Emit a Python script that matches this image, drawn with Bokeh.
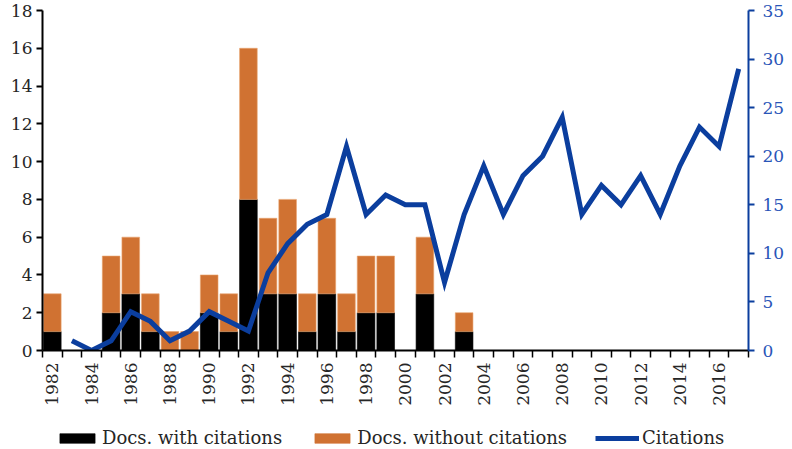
import numpy as np
from bokeh.plotting import figure
from bokeh.layouts import column
from bokeh.models import Range1d, LinearAxis, FixedTicker, ColumnDataSource, Legend, LegendItem
from bokeh.embed import file_html
from bokeh.resources import INLINE

years = list(range(1982, 2018))
with_cit = [1, 0, 0, 2, 3, 1, 0, 0, 2, 1, 8, 3, 3, 1, 3, 1, 2, 2, 0, 3, 0, 1] + [0] * 14
without_cit = [2, 0, 0, 3, 3, 2, 1, 1, 2, 2, 8, 4, 5, 2, 4, 2, 3, 3, 0, 3, 0, 1] + [0] * 14
cit_years = list(range(1983, 2018))
citations = [1, 0, 1, 4, 3, 1, 2, 4, 3, 2, 8, 11, 13, 14, 21, 14, 16, 15, 15, 7,
             14, 19, 14, 18, 20, 24, 14, 17, 15, 18, 14, 19, 23, 21, 29]
left_ticks = list(range(0, 19, 2))
right_ticks = list(range(0, 36, 5))
label_years = list(range(1982, 2017, 2))

FONT = "DejaVu Serif"
BLACK = "#000000"
ORANGE = "#D07232"
BLUE = "#0B3E9E"
BLUE_TXT = "#2A55B8"

src = ColumnDataSource(dict(year=years, with_cit=with_cit, without_cit=without_cit))
lsrc = ColumnDataSource(dict(year=cit_years, cit=citations))

p = figure(width=792, height=408, output_backend="svg", toolbar_location=None,
           x_range=Range1d(1981.5, 2017.5), y_range=Range1d(0, 18),
           min_border_left=42, min_border_right=44, min_border_top=10, min_border_bottom=53)
p.extra_y_ranges = {"cit": Range1d(0, 35)}
p.outline_line_color = None
p.grid.grid_line_color = None
p.xaxis.visible = False
p.yaxis.visible = False

bars = p.vbar_stack(["with_cit", "without_cit"], x="year", width=0.9, source=src,
                    color=[BLACK, ORANGE], line_color=["#000000", "#E9A46F"], line_width=0.6)
ln = p.line(x="year", y="cit", source=lsrc, y_range_name="cit",
            line_color=BLUE, line_width=5, line_join="miter")

# x axis
xa = LinearAxis(ticker=FixedTicker(ticks=label_years,
                                   minor_ticks=[y + 0.5 for y in range(1981, 2018)]))
xa.major_tick_in = 0
xa.major_tick_out = 0
xa.minor_tick_in = 0
xa.minor_tick_out = 7
xa.minor_tick_line_color = BLACK
xa.minor_tick_line_width = 1.5
xa.axis_line_color = BLACK
xa.axis_line_width = 2
xa.major_label_orientation = np.pi / 2
xa.major_label_text_font = FONT
xa.major_label_text_font_size = "17px"
xa.major_label_text_color = "#262626"
xa.major_label_standoff = 5
p.add_layout(xa, "below")

# left axis
ya = LinearAxis(ticker=FixedTicker(ticks=left_ticks))
ya.major_tick_in = 0
ya.major_tick_out = 6
ya.minor_tick_in = 0
ya.minor_tick_out = 0
ya.major_tick_line_width = 2
ya.axis_line_color = BLACK
ya.axis_line_width = 2
ya.major_label_text_font = FONT
ya.major_label_text_font_size = "17px"
ya.major_label_text_color = "#262626"
ya.major_label_standoff = 4
p.add_layout(ya, "left")

# right axis
ra = LinearAxis(y_range_name="cit", ticker=FixedTicker(ticks=right_ticks))
ra.major_tick_in = 0
ra.major_tick_out = 6
ra.minor_tick_in = 0
ra.minor_tick_out = 0
ra.major_tick_line_color = BLUE
ra.major_tick_line_width = 2
ra.axis_line_color = BLUE
ra.axis_line_width = 2
ra.major_label_text_font = FONT
ra.major_label_text_font_size = "17px"
ra.major_label_text_color = BLUE_TXT
ra.major_label_standoff = 8
p.add_layout(ra, "right")

# legend strip: same series drawn out of view so only their legend keys show
lf = figure(width=792, height=40, output_backend="svg", toolbar_location=None,
            x_range=Range1d(1981.5, 2017.5), y_range=Range1d(1000, 1001),
            x_axis_location=None, y_axis_location=None,
            min_border_left=0, min_border_right=0, min_border_top=0, min_border_bottom=0)
lf.grid.grid_line_color = None
lf.outline_line_color = None
kb = lf.vbar_stack(["with_cit", "without_cit"], x="year", width=0.9, source=src,
                   color=[BLACK, ORANGE], line_color=[BLACK, ORANGE], line_width=0.6)
kl = lf.line(x="year", y="cit", source=lsrc, line_color=BLUE, line_width=5)

legend = Legend(items=[LegendItem(label="Docs. with citations", renderers=[kb[0]]),
                       LegendItem(label="Docs. without citations", renderers=[kb[1]]),
                       LegendItem(label="Citations", renderers=[kl])],
                orientation="horizontal", location=(13, 0),
                label_text_font=FONT, label_text_font_size="18px",
                label_text_color="#262626",
                glyph_width=44, glyph_height=12, spacing=28, label_standoff=3,
                border_line_color=None, background_fill_alpha=0, margin=0, padding=0)
lf.add_layout(legend, "center")

open("out.html", "w").write(file_html(column(p, lf, spacing=0), INLINE))
